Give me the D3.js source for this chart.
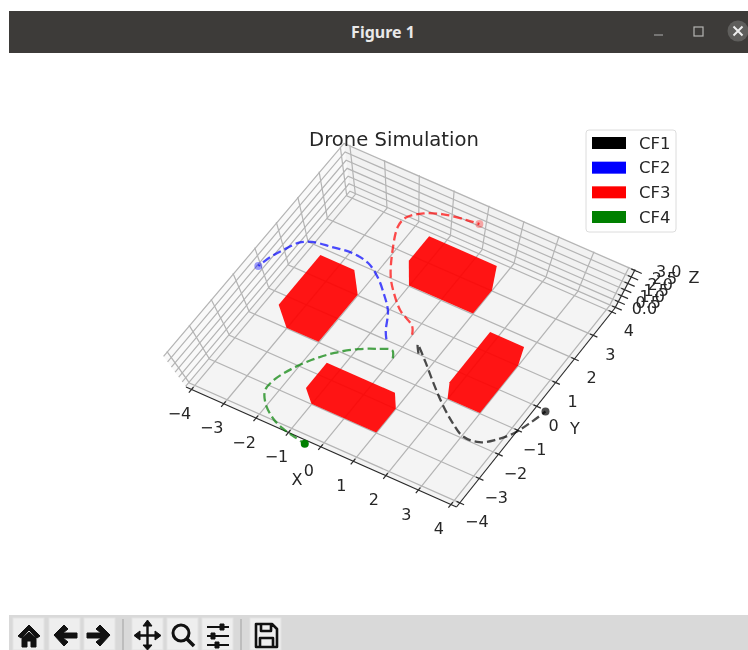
<!DOCTYPE html>
<html>
<head>
<meta charset="utf-8">
<script src="https://cdn.jsdelivr.net/npm/d3@7"></script>
<style>
  html, body { margin: 0; padding: 0; background: #fff; }
  svg { display: block; font-family: "DejaVu Sans", sans-serif; filter: blur(0.4px); }
</style>
</head>
<body>
<div id="chart"></div>
<script>
// Axis limits and ticks
const xyLimit = 4.17;
const zLimits = [-0.06, 3.06];
const xTicks = [-4, -3, -2, -1, 0, 1, 2, 3, 4];
const yTicks = [-4, -3, -2, -1, 0, 1, 2, 3, 4];
const zTicks = [0, 0.5, 1, 1.5, 2, 2.5, 3];

// Drone paths
const droneNames = ["CF1", "CF2", "CF3", "CF4"];
const droneColors = ["black", "blue", "red", "green"];
const markerOpacity = [0.7, 0.38, 0.32, 1];

const cf1X = [0.5, 0.47, 0.95, 1.5, 2.07, 2.62, 3.12, 3.59, 3.92, 4.2, 4.39, 4.52];
const cf1Y = [0, 0, -0.41, -0.93, -1.44, -1.86, -2.15, -2.11, -1.81, -1.38, -0.82, -0.31];
const cf1Z = [0, 0.85, 0.8, 0.8, 0.8, 0.8, 0.8, 0.8, 0.8, 0.8, 0.8, 0.8];

const cf2X = [-0.5, -0.5, -0.82, -1.24, -1.67, -2.15, -2.71, -3.27, -3.81, -4.08, -4.28, -4.45, -4.55];
const cf2Y = [0, 0, 0.64, 1.12, 1.53, 1.84, 1.93, 1.84, 1.73, 1.53, 1.12, 0.7, 0.27];
const cf2Z = [0, 0.8, 0.8, 0.8, 0.8, 0.8, 0.8, 0.8, 0.8, 0.8, 0.8, 0.8, 0.8];

const cf3X = [0, 0, -0.54, -1.01, -1.38, -1.8, -2.16, -2.15, -1.83, -1.37, -0.73, -0.37];
const cf3Y = [0.5, 0.5, 0.81, 1.26, 1.71, 2.48, 3.37, 3.76, 4.13, 4.37, 4.51, 4.56];
const cf3Z = [0, 0.8, 0.8, 0.8, 0.8, 0.8, 0.8, 0.8, 0.8, 0.8, 0.8, 0.8];

const cf4X = [0, 0, -0.35, -0.78, -1.24, -1.62, -1.9, -2.08, -2.09, -1.84, -1.36, -0.95, -0.6, -0.24];
const cf4Y = [-0.5, -0.5, -0.65, -0.92, -1.35, -1.87, -2.41, -2.95, -3.38, -3.77, -4.14, -4.3, -4.38, -4.45];
const cf4Z = [0, 0.8, 0.8, 0.8, 0.8, 0.8, 0.8, 0.8, 0.8, 0.8, 0.8, 0.8, 0.8, 0.8];

// Obstacles: [xmin, xmax], [ymin, ymax], height
const boxX = [[-3, -2], [-1, 1], [-1, 1], [2, 3]];
const boxY = [[-1, 1], [-3, -2], [2, 3], [-1, 1]];
const boxH = [2.0, 1.75, 1.95, 1.8];

const width = 748, height = 650;

const svg = d3.select("#chart")
  .append("svg")
  .attr("width", width)
  .attr("height", height);

// Camera: floor corners in pixels, and the point vertical lines run to
const floorCorners = [[186, 387], [456.5, 507], [615, 308], [350, 192]];
const nadir = [412, 695];
const zPull = -0.092;

const xScale = d3.scaleLinear().domain([-xyLimit, xyLimit]).range([0, 1]);
const yScale = d3.scaleLinear().domain([-xyLimit, xyLimit]).range([0, 1]);
const zScale = d3.scaleLinear().domain(zLimits).range([0, 1]);

// Square to quad homography
const [p0, p1, p2, p3] = floorCorners;
const dx1 = p1[0] - p2[0], dx2 = p3[0] - p2[0], sx = p0[0] - p1[0] + p2[0] - p3[0];
const dy1 = p1[1] - p2[1], dy2 = p3[1] - p2[1], sy = p0[1] - p1[1] + p2[1] - p3[1];
const den = dx1 * dy2 - dx2 * dy1;
const g = (sx * dy2 - dx2 * sy) / den;
const h = (dx1 * sy - sx * dy1) / den;
const a = p1[0] - p0[0] + g * p1[0], b = p3[0] - p0[0] + h * p3[0];
const d = p1[1] - p0[1] + g * p1[1], e = p3[1] - p0[1] + h * p3[1];

function project(x, y, z) {
  const s = xScale(x), t = yScale(y), w = zScale(z);
  const q = g * s + h * t + 1 + zPull * w;
  return [
    (a * s + b * t + p0[0] + zPull * nadir[0] * w) / q,
    (d * s + e * t + p0[1] + zPull * nadir[1] * w) / q
  ];
}

const line = d3.line();
const [zLo, zHi] = zLimits;
const L = xyLimit;

// Panes
const panes = svg.append("g");
function pane(points, fill) {
  panes.append("path")
    .attr("d", line(points.map(p => project(...p))) + "Z")
    .attr("fill", fill);
}
pane([[-L, -L, zHi], [-L, L, zHi], [-L, L, zLo], [-L, -L, zLo]], "#f9f9f9");
pane([[-L, L, zHi], [L, L, zHi], [L, L, zLo], [-L, L, zLo]], "#f2f2f2");
pane([[-L, -L, zLo], [L, -L, zLo], [L, L, zLo], [-L, L, zLo]], "#f4f4f4");

// Grid
const grid = svg.append("g")
  .attr("fill", "none")
  .attr("stroke", "#b4b4b4")
  .attr("stroke-width", 1.2);
function gridLine(points) {
  grid.append("path").attr("d", line(points.map(p => project(...p))));
}
xTicks.forEach(x => gridLine([[x, -L, zLo], [x, L, zLo], [x, L, zHi]]));
yTicks.forEach(y => gridLine([[L, y, zLo], [-L, y, zLo], [-L, y, zHi]]));
zTicks.forEach(z => gridLine([[-L, -L, z], [-L, L, z], [L, L, z]]));

// Axis lines and ticks
const axes = svg.append("g")
  .attr("fill", "none")
  .attr("stroke", "#2a2a2a")
  .attr("stroke-width", 1.2);
function axisLine(from, to) {
  axes.append("path").attr("d", line([project(...from), project(...to)]));
}
axisLine([-L, -L, zLo], [L, -L, zLo]);
axisLine([L, -L, zLo], [L, L, zLo]);
axisLine([L, L, zLo], [L, L, zHi]);
xTicks.forEach(x => axisLine([x, -L + 0.1, zLo], [x, -L - 0.13, zLo]));
yTicks.forEach(y => axisLine([L - 0.1, y, zLo], [L + 0.13, y, zLo]));
zTicks.forEach(z => axisLine([L - 0.1, L, z], [L + 0.2, L, z]));

// Tick labels
const labels = svg.append("g")
  .attr("fill", "#262626")
  .attr("font-size", 16)
  .attr("text-anchor", "middle")
  .attr("dominant-baseline", "central");
const minus = v => String(v).replace("-", "\u2212");
xTicks.forEach(x => {
  const p = project(x, -L, zLo);
  labels.append("text").attr("x", p[0] - 12).attr("y", p[1] + 24).text(minus(x));
});
yTicks.forEach(y => {
  const p = project(L, y, zLo);
  labels.append("text").attr("x", p[0] + 17).attr("y", p[1] + 19).text(minus(y));
});
zTicks.forEach(z => {
  const p = project(L, L, z);
  labels.append("text").attr("x", p[0] + 29 + z * 1.7).attr("y", p[1] + 1).text(z.toFixed(1));
});
labels.append("text").attr("x", 297).attr("y", 479).text("X");
labels.append("text").attr("x", 575).attr("y", 428).text("Y");
labels.append("text").attr("x", 694).attr("y", 277).text("Z");

// Obstacles, only the outline of each box is filled
boxX.forEach((bx, i) => {
  const corners = [];
  bx.forEach(x => boxY[i].forEach(y => [0, boxH[i]].forEach(z => corners.push(project(x, y, z)))));
  svg.append("path")
    .attr("d", line(d3.polygonHull(corners)) + "Z")
    .attr("fill", "red")
    .attr("fill-opacity", 0.92);
});

// Drone paths
const paths = [[cf1X, cf1Y, cf1Z], [cf2X, cf2Y, cf2Z], [cf3X, cf3Y, cf3Z], [cf4X, cf4Y, cf4Z]];
paths.forEach(([xs, ys, zs], i) => {
  const pts = xs.map((x, j) => project(x, ys[j], zs[j]));
  svg.append("path")
    .attr("d", d3.line().curve(d3.curveCatmullRom.alpha(0.5))(pts))
    .attr("fill", "none")
    .attr("stroke", droneColors[i])
    .attr("stroke-width", 2.3)
    .attr("stroke-opacity", 0.7)
    .attr("stroke-dasharray", "8.5,4");
  const last = pts[pts.length - 1];
  svg.append("circle")
    .attr("cx", last[0])
    .attr("cy", last[1])
    .attr("r", 4)
    .attr("fill", droneColors[i])
    .attr("fill-opacity", markerOpacity[i]);
});

// Title
svg.append("text")
  .attr("x", 394)
  .attr("y", 146)
  .attr("text-anchor", "middle")
  .attr("font-size", 19.6)
  .attr("fill", "#262626")
  .text("Drone Simulation");

// Legend
const legend = svg.append("g").attr("transform", "translate(586,130)");
legend.append("rect")
  .attr("width", 90).attr("height", 102).attr("rx", 3)
  .attr("fill", "#fff").attr("fill-opacity", 0.8)
  .attr("stroke", "#dcdcdc");
const legendY = d3.scalePoint().domain(droneNames).range([13, 87]);
droneNames.forEach((name, i) => {
  legend.append("rect")
    .attr("x", 6).attr("y", legendY(name) - 6)
    .attr("width", 34).attr("height", 12)
    .attr("fill", droneColors[i]);
  legend.append("text")
    .attr("x", 53).attr("y", legendY(name))
    .attr("dominant-baseline", "central")
    .attr("font-size", 16.5)
    .attr("fill", "#262626")
    .text(name);
});

// Window title bar
const bar = svg.append("g");
bar.append("rect").attr("x", 9).attr("y", 11).attr("width", 739).attr("height", 42).attr("fill", "#3d3b39");
bar.append("text")
  .attr("x", 383).attr("y", 38)
  .attr("text-anchor", "middle")
  .attr("font-family", "'Noto Sans', sans-serif")
  .attr("font-weight", "bold")
  .attr("font-size", 16)
  .attr("fill", "#e9e9e9")
  .text("Figure 1");
bar.append("path").attr("d", "M654,35H663").attr("stroke", "#8a8a88").attr("stroke-width", 1.5);
bar.append("rect").attr("x", 694).attr("y", 27).attr("width", 9).attr("height", 9)
  .attr("fill", "none").attr("stroke", "#b5b5b3").attr("stroke-width", 1.2);
bar.append("circle").attr("cx", 738).attr("cy", 31).attr("r", 10.5).attr("fill", "#5f5e5c");
bar.append("path").attr("d", "M733.5,26.5L742.5,35.5M742.5,26.5L733.5,35.5")
  .attr("stroke", "#eee").attr("stroke-width", 2);

// Toolbar
const toolbar = svg.append("g");
toolbar.append("rect").attr("x", 9).attr("y", 615).attr("width", 739).attr("height", 35).attr("fill", "#d9d9d9");
const buttonX = [13, 49, 84, 132, 167, 202, 250];
buttonX.forEach(x => {
  toolbar.append("rect")
    .attr("x", x).attr("y", 618).attr("width", 31).attr("height", 32)
    .attr("fill", "#eeeeee").attr("stroke", "#e3e3e3");
});
[123, 241].forEach(x => {
  toolbar.append("path").attr("d", `M${x},619V650`).attr("stroke", "#bdbdbd").attr("stroke-width", 2);
});
const icon = toolbar.append("g").attr("fill", "#111").attr("stroke", "#111").attr("stroke-linejoin", "round");
// home
icon.append("path").attr("stroke-width", 1).attr("d", "M18,636L29,625L40,636L37,638L29,630L21,638ZM22,638L29,632L36,638V647H31V641H27V647H22Z");
// back and forward
icon.append("path").attr("stroke-width", 1).attr("d", "M54,635L64,625L68,629L63,633H77V638H63L68,642L64,646Z");
icon.append("path").attr("stroke-width", 1).attr("d", "M110,635L100,625L96,629L101,633H87V638H101L96,642L100,646Z");
// pan
icon.append("path").attr("stroke-width", 2.4).attr("fill", "none").attr("d", "M147.5,623V648M135,635.5H160");
icon.append("path").attr("stroke-width", 1).attr("d", "M147.5,620L143,626H152ZM147.5,650L143,645H152ZM134,635.5L140,631V640ZM161,635.5L155,631V640Z");
// zoom
icon.append("circle").attr("cx", 181).attr("cy", 633).attr("r", 8).attr("fill", "none").attr("stroke-width", 3);
icon.append("path").attr("stroke-width", 3.6).attr("fill", "none").attr("d", "M187,639L194,646");
// subplots
icon.append("path").attr("stroke-width", 1.8).attr("fill", "none").attr("d", "M207,627H229M207,636H229M207,645H229");
icon.append("path").attr("stroke-width", 1).attr("d", "M220,624h4v6h-4ZM211,633h4v6h-4ZM215,642h4v6h-4Z");
// save
icon.append("path").attr("stroke-width", 2.6).attr("fill", "none").attr("d", "M256,624H272L277,629V647H256ZM261,624V631H271V624M260,647V638H273V647");
</script>
</body>
</html>
